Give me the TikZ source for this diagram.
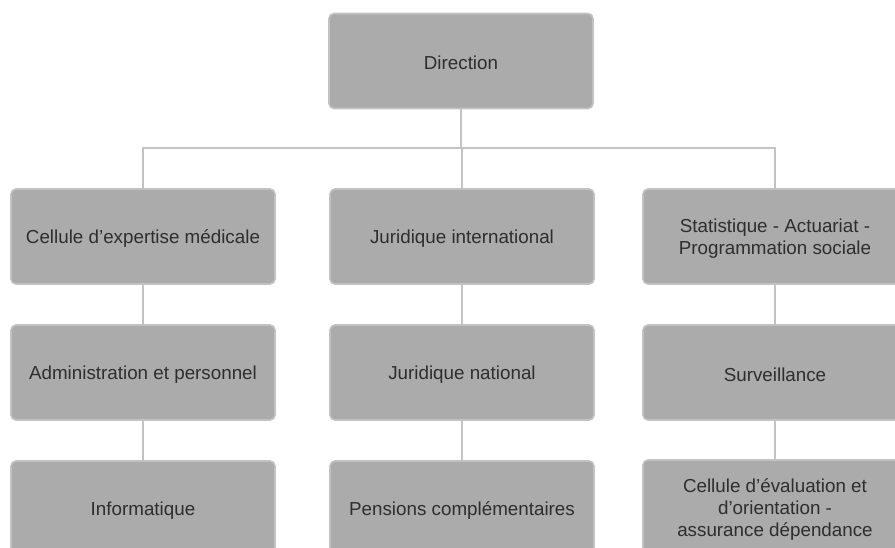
\documentclass[tikz,border=0pt]{standalone}
\usepackage{fontspec}
\setmainfont{Liberation Sans}
\begin{document}
\begin{tikzpicture}[x=1pt,y=-1pt,
  orgbox/.style={draw=boxedge,line width=1.6pt,fill=boxfill,rounded corners=5pt,
    minimum width=264pt,minimum height=95pt,inner sep=0pt,
    label={[boxtext]center:{#1}}},
  boxtext/.style={align=center,text=txt,inner sep=0pt,yshift=-2pt,
    font=\fontsize{18.8}{22}\selectfont},
  link/.style={draw=linecol,line width=2.4pt}]
\definecolor{boxfill}{HTML}{ABABAB}
\definecolor{boxedge}{HTML}{C2C2C2}
\definecolor{linecol}{HTML}{C3C3C3}
\definecolor{txt}{HTML}{2E2E2E}
\useasboundingbox (0,0) rectangle (895,548);
\clip (0,0) rectangle (895,548);
\node[orgbox={Direction}] (dir) at (461,61) {};
\node[orgbox={Cellule d’expertise médicale}] (a1) at (143,236.5) {};
\node[orgbox={Administration et personnel}] (a2) at (143,372.5) {};
\node[orgbox={Informatique}] (a3) at (143,508.5) {};
\node[orgbox={Juridique international}] (b1) at (462,236.5) {};
\node[orgbox={Juridique national}] (b2) at (462,372.5) {};
\node[orgbox={Pensions complémentaires}] (b3) at (462,508.5) {};
\node[orgbox={Statistique - Actuariat -\\Programmation sociale}] (c1) at (775,236.5) {};
\node[orgbox={Surveillance}] (c2) at (775,372.5) {};
\node[orgbox={Cellule d’évaluation et\\d’orientation -\\assurance dépendance}] (c3) at (775,507.5) {};
\coordinate (bar) at (461,148);
\draw[link] (dir.south) -- (bar);
\draw[link] (a1.north) |- (bar) -| (c1.north);
\draw[link] (bar) -- (bar -| b1.north) -- (b1.north);
\draw[link] (a1) -- (a2); \draw[link] (a2) -- (a3);
\draw[link] (b1) -- (b2); \draw[link] (b2) -- (b3);
\draw[link] (c1) -- (c2); \draw[link] (c2) -- (c3);
\end{tikzpicture}
\end{document}
